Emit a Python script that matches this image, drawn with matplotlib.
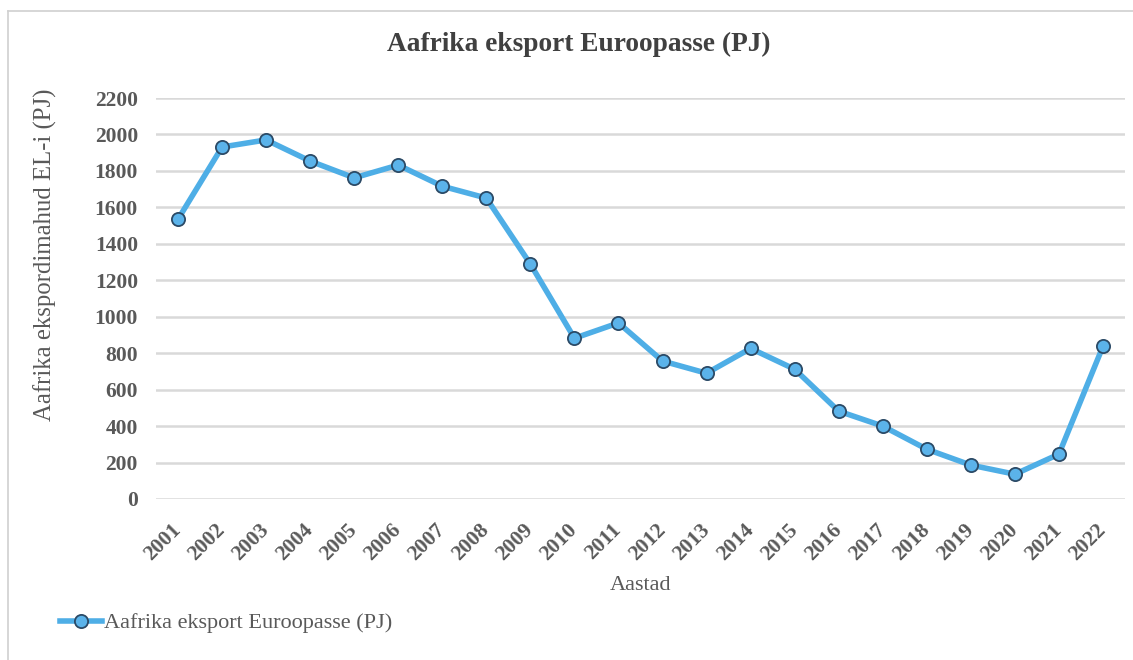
import matplotlib.pyplot as plt
from matplotlib.lines import Line2D

years = ["2001", "2002", "2003", "2004", "2005", "2006", "2007", "2008", "2009", "2010", "2011",
         "2012", "2013", "2014", "2015", "2016", "2017", "2018", "2019", "2020", "2021", "2022"]
export_pj = [1535, 1931, 1970, 1854, 1762, 1832, 1716, 1651, 1289, 882, 966,
             757, 690, 826, 712, 482, 400, 273, 186, 136, 246, 838]
y_ticks = [0, 200, 400, 600, 800, 1000, 1200, 1400, 1600, 1800, 2000, 2200]

title = "Aafrika eksport Euroopasse (PJ)"
series_name = "Aafrika eksport Euroopasse (PJ)"
y_label = "Aafrika ekspordimahud EL-i (PJ)"
x_label = "Aastad"

plt.rcParams['font.family'] = ['Liberation Serif', 'DejaVu Serif']
text_col = '#595959'

fig = plt.figure(figsize=(11.33, 6.6), dpi=100)
W, H = 1133, 660
ax = fig.add_axes([156 / W, 1 - 499 / H, (1125 - 156) / W, (499 - 98) / H])

x = list(range(len(years)))
ax.plot(x, export_pj, color='#4eaee6', lw=4, marker='o', ms=9.5,
        markerfacecolor='#5bb3ea', markeredgecolor='#2b4a66', markeredgewidth=1.3,
        label=series_name, zorder=3, solid_joinstyle='round')

ax.set_xlim(-0.5, len(years) - 0.5)
ax.set_ylim(0, 2200)
ax.set_yticks(y_ticks)
ax.set_xticks(x)
ax.set_xticklabels(years, rotation=45, ha='right', va='center', rotation_mode='anchor')
ax.tick_params(length=0, labelsize=15.5, labelcolor=text_col)
ax.tick_params(axis='x', pad=20)
ax.tick_params(axis='y', pad=13)
for lab in ax.get_xticklabels() + ax.get_yticklabels():
    lab.set_fontweight('bold')
ax.grid(axis='y', color='#d9d9d9', lw=1.8)
ax.set_axisbelow(True)
for s in ax.spines.values():
    s.set_visible(False)

fig.text(579 / W, 1 - 44 / H, title, ha='center', va='center',
         fontsize=19.7, fontweight='bold', color='#404040')
fig.text(45 / W, 1 - 255 / H, y_label, rotation=90, ha='center', va='center',
         fontsize=17.8, color=text_col)
fig.text(641 / W, 1 - 585 / H, x_label, ha='center', va='center',
         fontsize=16, color=text_col)

leg = fig.legend(loc='center left', bbox_to_anchor=(40 / W, 1 - 623 / H), frameon=False,
                 fontsize=16, handlelength=1.9, handletextpad=0.1)
for t in leg.get_texts():
    t.set_color(text_col)

# light frame around the chart area
fig.add_artist(Line2D([8 / W, 1.0], [1 - 11 / H, 1 - 11 / H], color='#d0d0d0', lw=1.2))
fig.add_artist(Line2D([8 / W, 8 / W], [0, 1 - 11 / H], color='#d0d0d0', lw=1.2))

fig.savefig('out.png', dpi=100)
